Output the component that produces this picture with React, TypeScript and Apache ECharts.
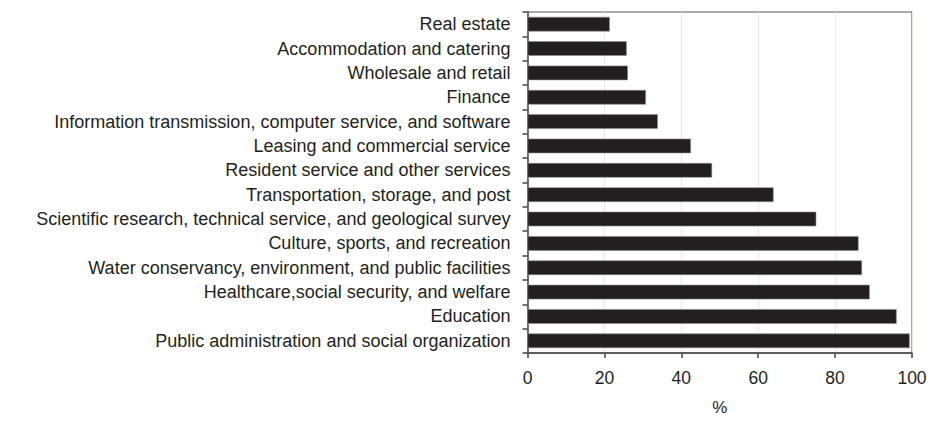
import React, { useEffect, useRef } from "react";
import * as echarts from "echarts";

const categories = [
  "Real estate",
  "Accommodation and catering",
  "Wholesale and retail",
  "Finance",
  "Information transmission, computer service, and software",
  "Leasing and commercial service",
  "Resident service and other services",
  "Transportation, storage, and post",
  "Scientific research, technical service, and geological survey",
  "Culture, sports, and recreation",
  "Water conservancy, environment, and public facilities",
  "Healthcare,social security, and welfare",
  "Education",
  "Public administration and social organization",
];

const values = [21.4, 25.8, 26.1, 30.8, 33.9, 42.5, 48.0, 64.0, 75.1, 86.1, 87.0, 89.0, 96.0, 99.4];

const xTicks = [0, 20, 40, 60, 80, 100];

export default function App() {
  const ref = useRef<HTMLDivElement>(null);
  useEffect(() => {
    if (!ref.current) return;
    const chart = echarts.init(ref.current, undefined, { renderer: "svg" });
    const font = "'Liberation Sans', Arial, sans-serif";
    chart.setOption({
      animation: false,
      textStyle: { fontFamily: font },
      grid: {
        left: 527.5,
        top: 12,
        right: 26,
        bottom: 59,
        show: true,
        borderColor: "#555",
        borderWidth: 1,
        containLabel: false,
      },
      xAxis: {
        type: "value",
        min: xTicks[0],
        max: xTicks[xTicks.length - 1],
        interval: 20,
        name: "%",
        nameLocation: "middle",
        nameGap: 46,
        nameTextStyle: { fontSize: 17, color: "#231f20", fontFamily: font, verticalAlign: "top" },
        axisLine: { show: true, lineStyle: { color: "#444", width: 1.5 } },
        axisTick: { show: true, length: 5, lineStyle: { color: "#444", width: 1.5 } },
        axisLabel: { fontSize: 17.5, color: "#231f20", margin: 16, fontFamily: font },
        splitLine: { show: true, lineStyle: { color: "#ebe6e0", width: 1 } },
      },
      yAxis: {
        type: "category",
        data: categories,
        inverse: true,
        axisLine: { show: true, lineStyle: { color: "#444", width: 1.5 } },
        axisTick: { show: true, length: 5, lineStyle: { color: "#444", width: 1.5 } },
        axisLabel: { fontSize: 18, color: "#231f20", margin: 17, fontFamily: font },
        splitLine: { show: false },
      },
      series: [
        {
          type: "bar",
          data: values,
          barCategoryGap: "40%",
          itemStyle: { color: "#231f20", borderColor: "#8a8a8a", borderWidth: 0.6 },
        },
      ],
    });
    return () => chart.dispose();
  }, []);
  return <div ref={ref} style={{ width: 938, height: 421, position: "absolute", left: 0, top: 0 }} />;
}
